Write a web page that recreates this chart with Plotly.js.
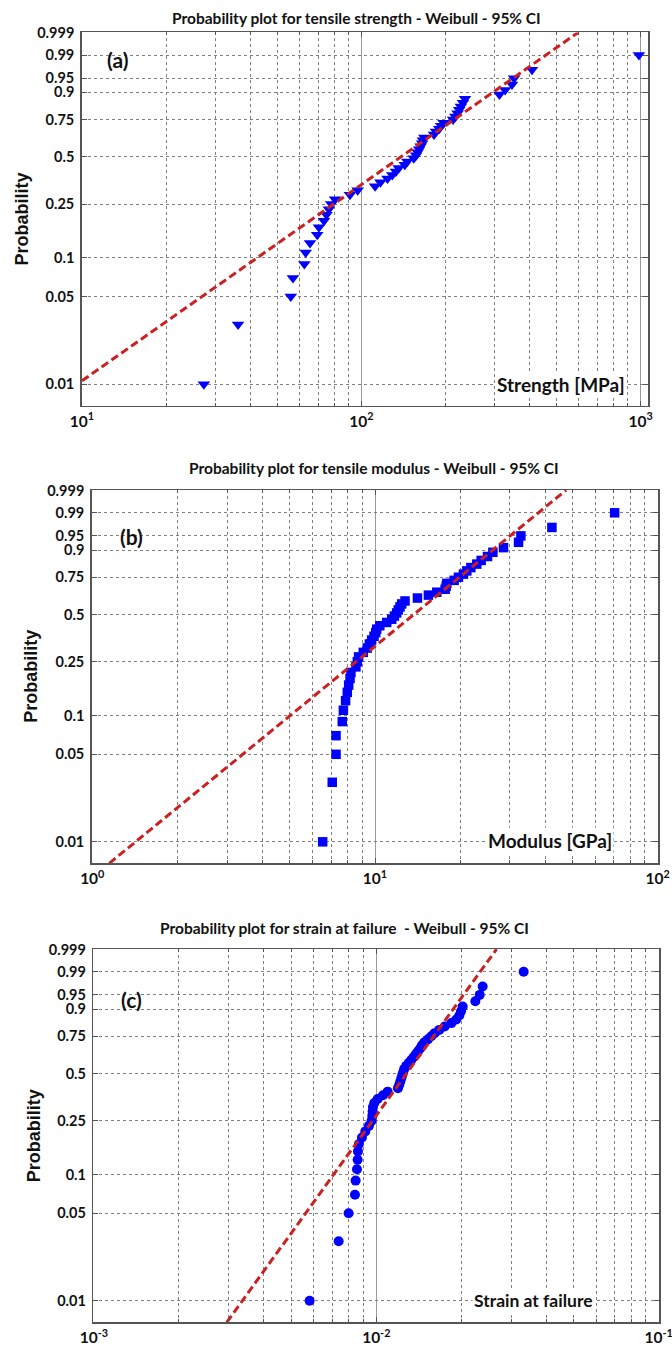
<!DOCTYPE html>
<html><head><meta charset="utf-8">
<script src="https://cdn.plot.ly/plotly-3.0.1.min.js"></script>
<style>html,body{margin:0;padding:0;background:#fff}#chart{width:672px;height:1347px}</style>
</head><body><div id="chart"></div>
<script>
// Plotting positions (probability) shared by the three samples (n = 50)
const probability = [0.01,0.03,0.05,0.07,0.09,0.11,0.13,0.15,0.17,0.19,0.21,0.23,0.25,0.27,0.29,0.31,0.33,0.35,0.37,0.39,
  0.41,0.43,0.45,0.47,0.49,0.51,0.53,0.55,0.57,0.59,0.61,0.63,0.65,0.67,0.69,0.71,0.73,0.75,0.77,0.79,
  0.81,0.83,0.85,0.87,0.89,0.91,0.93,0.95,0.97,0.99];

// (a) tensile strength [MPa]
const strengthMPa = [27.3,36.2,55.9,56.9,62.5,63.2,65.5,69.5,70.5,73.5,75.0,76.5,78.0,80.5,91.0,97.0,112,117,124,129,
  133,136,143,146,154,157,159,161,163,165,166,168,182,185,190,193,197,213,217,221,
  224,227,231,235,312,327,346,352,408,985];
// (b) tensile modulus [GPa]
const modulusGPa = [6.53,7.06,7.28,7.28,7.66,7.73,7.87,7.98,8.07,8.16,8.22,8.56,8.66,8.75,9.09,9.39,9.55,9.73,9.92,10.06,
  10.14,10.4,11.0,11.46,11.71,11.93,12.09,12.26,12.43,12.77,14.13,15.45,16.54,17.70,17.85,17.95,19.05,19.73,20.55,21.12,
  21.83,22.91,23.74,25.0,26.12,28.48,32.19,32.8,42.24,70.4];
// (c) strain at failure
const strainAtFailure = [0.005806,0.007357,0.00798,0.008403,0.008449,0.008541,0.008588,0.008611,0.008682,0.008898,
  0.009142,0.00942,0.009627,0.009679,0.009705,0.009732,0.009838,0.01011,0.01056,0.01097,
  0.01193,0.01206,0.01216,0.01226,0.01236,0.01246,0.01256,0.01277,0.01302,0.0133,
  0.01356,0.01382,0.01405,0.01432,0.01451,0.01479,0.01524,0.01566,0.01609,0.01671,
  0.01746,0.01844,0.0192,0.01968,0.01995,0.02022,0.02242,0.02323,0.0238,0.03325];

// Weibull fit lines (end points: value, probability)
const fitStrengthX = [10, 597],      fitStrengthP = [0.01064, 0.99911];
const fitModulusX  = [1.149, 47.4],  fitModulusP  = [0.006715, 0.99911];
const fitStrainX   = [0.002955, 0.02666], fitStrainP = [0.006715, 0.99911];

const probTicks    = [0.01,0.05,0.1,0.25,0.5,0.75,0.9,0.95,0.99,0.999];
const probTickText = ['0.01','0.05','0.1','0.25','0.5','0.75','0.9','0.95','0.99','0.999'];

const decadeTicks = [[10, 100, 1000], [1, 10, 100], [0.001, 0.01, 0.1]];
const decadeText  = [['10<sup>1</sup>','10<sup>2</sup>','10<sup>3</sup>'],
                     ['10<sup>0</sup>','10<sup>1</sup>','10<sup>2</sup>'],
                     ['10<sup>-3</sup>','10<sup>-2</sup>','10<sup>-1</sup>']];

const titles = ['Probability plot for tensile strength - Weibull - 95% CI',
                'Probability plot for tensile modulus - Weibull - 95% CI',
                'Probability plot for strain at failure  - Weibull - 95% CI'];
const panelLabels = ['(a)','(b)','(c)'];
const axisNotes = ['Strength [MPa]','Modulus [GPa]','Strain at failure'];

// Weibull probability scale
const weibullY = p => Math.log(-Math.log(1 - p));

const BLUE = '#0000ff', RED = '#cc2020';
const W = 672, H = 1347;
const px = x => x / W, py = y => 1 - y / H;

const traces = [];
function addPanel(i, xs, fitX, fitP, symbol, size) {
  const xa = i === 0 ? 'x' : 'x' + (i + 1), ya = i === 0 ? 'y' : 'y' + (i + 1);
  traces.push({type:'scatter', mode:'markers', x: xs, y: probability.map(weibullY), xaxis: xa, yaxis: ya,
    marker:{symbol: symbol, size: size, color: BLUE, line:{width:0}}, hoverinfo:'skip', cliponaxis:false});
  traces.push({type:'scatter', mode:'lines', x: fitX, y: fitP.map(weibullY), xaxis: xa, yaxis: ya,
    line:{color: RED, width: 3, dash:'8px,4px'}, hoverinfo:'skip'});
}
addPanel(0, strengthMPa, fitStrengthX, fitStrengthP, 'triangle-down', 11);
addPanel(1, modulusGPa, fitModulusX, fitModulusP, 'square', 9.5);
addPanel(2, strainAtFailure, fitStrainX, fitStrainP, 'circle', 10);

const tickFont = {family:'Lato, "Open Sans", sans-serif', size:14.5, color:'#111', weight:'bold'};
const xTickFont = {family:'Lato, "Open Sans", sans-serif', size:15.5, color:'#111', weight:'bold'};
function xAxis(dom, range, anchor, i) {
  return {type:'log', domain: dom, range: range, anchor: anchor,
    tickmode:'array', tickvals: decadeTicks[i], ticktext: decadeText[i], ticklabeloverflow:'allow',
    showgrid:true, gridcolor:'#9a9a9a', gridwidth:1, zeroline:false,
    showline:true, linecolor:'#555', linewidth:1.5, mirror:'ticks',
    ticks:'inside', ticklen:5, tickcolor:'#555', tickfont: xTickFont, ticklabelstandoff: 1,
    minor:{dtick:'D1', showgrid:true, gridcolor:'#808080', griddash:'dot', gridwidth:1,
           ticks:'inside', ticklen:3, tickcolor:'#555'}};
}
function yAxis(dom, anchor) {
  return {domain: dom, anchor: anchor, range:[-5.0, 1.95],
    tickvals: probTicks.map(weibullY), ticktext: probTickText,
    showgrid:true, gridcolor:'#808080', griddash:'dot', gridwidth:1, zeroline:false,
    showline:true, linecolor:'#555', linewidth:1.5, mirror:'ticks',
    ticks:'inside', ticklen:5, tickcolor:'#555', tickfont: tickFont, ticklabelstandoff: 3};
}

// panel frames in pixels: [left, right, top, bottom]
const frames = [[81.7, 648.3, 32.4, 405.6], [91.7, 658.3, 490.1, 863.3], [93.3, 659.3, 949.1, 1322.3]];
const xRanges = [[0.999, 3.027], [-0.002, 2.002], [-3.002, -0.998]];

const layout = {width: W, height: H, margin:{l:0, r:0, t:0, b:0}, showlegend:false,
  paper_bgcolor:'#fff', plot_bgcolor:'#fff', annotations: []};
frames.forEach((f, i) => {
  const sfx = i === 0 ? '' : String(i + 1);
  layout['xaxis' + sfx] = xAxis([px(f[0]), px(f[1])], xRanges[i], 'y' + sfx, i);
  layout['yaxis' + sfx] = yAxis([py(f[3]), py(f[2])], 'x' + sfx);
});

const titlePos = [[356, 18], [374, 468.3], [345, 928.3]];
const labelPos = [[118, 60], [131, 536.7], [131, 1000]];
const notePos  = [[561, 385], [549.5, 840], [533, 1300.7]];
const noteFont = [
  {family:'Lato, sans-serif', size:19, color:'#111', weight:'bold'},
  {family:'Lato, sans-serif', size:19, color:'#111', weight:'bold'},
  {family:'Lato, sans-serif', size:17.5, color:'#111', weight:'bold'}];
const ylabPos = [[21.5, 219], [31, 676.7], [33.5, 1135.7]];

for (let i = 0; i < 3; i++) {
  layout.annotations.push({xref:'paper', yref:'paper', x: px(titlePos[i][0]), y: py(titlePos[i][1]),
    xanchor:'center', yanchor:'middle', showarrow:false, text: titles[i],
    font:{family:'Lato, sans-serif', size:15.5, color:'#111', weight:'bold'}});
  layout.annotations.push({xref:'paper', yref:'paper', x: px(labelPos[i][0]), y: py(labelPos[i][1]),
    xanchor:'center', yanchor:'middle', showarrow:false, text: panelLabels[i],
    font:{family:'Lato, sans-serif', size:21, color:'#111', weight:'bold'}});
  layout.annotations.push({xref:'paper', yref:'paper', x: px(notePos[i][0]), y: py(notePos[i][1]),
    xanchor:'center', yanchor:'middle', showarrow:false, text: axisNotes[i], bgcolor:'#fff', borderpad:1,
    font: noteFont[i]});
  layout.annotations.push({xref:'paper', yref:'paper', x: px(ylabPos[i][0]), y: py(ylabPos[i][1]),
    xanchor:'center', yanchor:'middle', showarrow:false, text:'Probability', textangle:-90,
    font:{family:'"Liberation Sans", Arial, sans-serif', size:18, color:'#111', weight:'bold'}});
}

Plotly.newPlot('chart', traces, layout, {displayModeBar:false, staticPlot:true});
</script></body></html>
